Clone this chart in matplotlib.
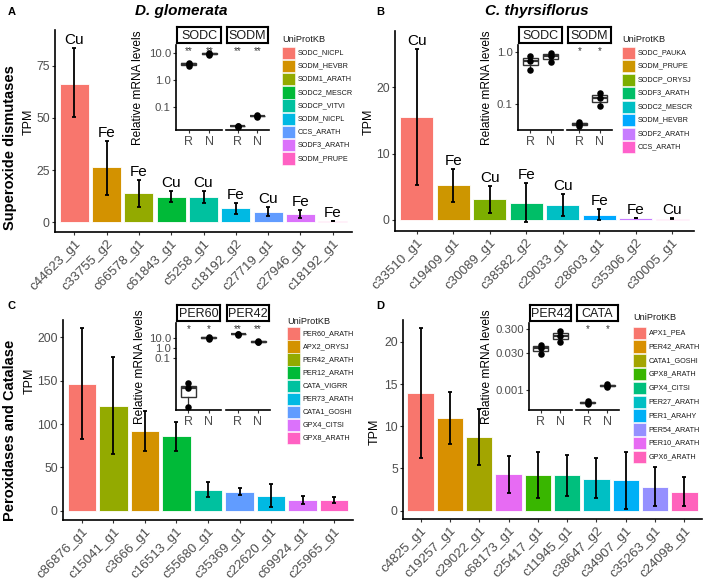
import matplotlib
matplotlib.use('Agg')
import matplotlib.pyplot as plt
import numpy as np
from matplotlib import cbook
from matplotlib.patches import Rectangle

plt.rcParams['font.family'] = ['Liberation Sans', 'DejaVu Sans']

# ---------------- data ----------------
# Panel A (D. glomerata, superoxide dismutases)
a_genes = ['c44623_g1', 'c33755_g2', 'c66578_g1', 'c61843_g1', 'c5258_g1',
           'c18192_g2', 'c27719_g1', 'c27946_g1', 'c18192_g1']
a_tpm = [66.5, 26.4, 13.9, 12.0, 12.0, 6.5, 5.0, 4.0, 0.5]
a_lo = [50.5, 13.0, 7.0, 9.5, 9.0, 4.0, 3.0, 2.0, 0.3]
a_hi = [83.5, 39.0, 20.0, 14.7, 15.0, 9.0, 7.0, 6.0, 0.7]
a_metal = ['Cu', 'Fe', 'Fe', 'Cu', 'Cu', 'Fe', 'Cu', 'Fe', 'Fe']
a_uniprot = ['SODC_NICPL', 'SODM_HEVBR', 'SODM1_ARATH', 'SODC2_MESCR', 'SODCP_VITVI',
             'SODM_NICPL', 'CCS_ARATH', 'SODF3_ARATH', 'SODM_PRUPE']
a_levels = ['SODC_NICPL', 'SODM_HEVBR', 'SODM1_ARATH', 'SODC2_MESCR', 'SODCP_VITVI',
            'SODM_NICPL', 'CCS_ARATH', 'SODF3_ARATH', 'SODM_PRUPE']
a_facets = ['SODC', 'SODM']
a_qpcr = {'SODC': {'R': [3.3, 3.8, 4.2], 'N': [8.5, 9.0, 9.8]},
          'SODM': {'R': [0.019, 0.020, 0.021], 'N': [0.045, 0.048, 0.050]}}
a_sig = {'SODC': ['**', '**'], 'SODM': ['**', '**']}
a_qticks = [10.0, 1.0, 0.1]
a_qticklabels = ['10.0', '1.0', '0.1']

# Panel B (C. thyrsiflorus, superoxide dismutases)
b_genes = ['c33510_g1', 'c19409_g1', 'c30089_g1', 'c38582_g2', 'c29033_g1',
           'c28603_g1', 'c35306_g2', 'c30005_g1']
b_tpm = [15.5, 5.2, 3.1, 2.6, 2.3, 0.8, 0.3, 0.2]
b_lo = [5.2, 2.7, 1.1, -0.3, 0.6, 0.0, 0.25, 0.15]
b_hi = [25.8, 7.7, 5.1, 5.5, 3.9, 1.7, 0.35, 0.25]
b_metal = ['Cu', 'Fe', 'Cu', 'Fe', 'Cu', 'Fe', 'Fe', 'Cu']
b_uniprot = ['SODC_PAUKA', 'SODM_PRUPE', 'SODCP_ORYSJ', 'SODF3_ARATH', 'SODC2_MESCR',
             'SODM_HEVBR', 'SODF2_ARATH', 'CCS_ARATH']
b_levels = ['SODC_PAUKA', 'SODM_PRUPE', 'SODCP_ORYSJ', 'SODF3_ARATH', 'SODC2_MESCR',
            'SODM_HEVBR', 'SODF2_ARATH', 'CCS_ARATH']
b_facets = ['SODC', 'SODM']
b_qpcr = {'SODC': {'R': [0.45, 0.68, 0.85], 'N': [0.65, 0.85, 0.97]},
          'SODM': {'R': [0.037, 0.040, 0.045], 'N': [0.09, 0.13, 0.165]}}
b_sig = {'SODC': ['', ''], 'SODM': ['*', '*']}
b_qticks = [1.0, 0.1]
b_qticklabels = ['1.0', '0.1']

# Panel C (D. glomerata, peroxidases and catalase)
c_genes = ['c86876_g1', 'c15041_g1', 'c3666_g1', 'c16513_g1', 'c55680_g1',
           'c35369_g1', 'c22620_g1', 'c69924_g1', 'c25965_g1']
c_tpm = [146.0, 121.0, 92.0, 86.0, 24.0, 22.0, 17.0, 12.5, 12.5]
c_lo = [83.0, 65.0, 69.0, 69.0, 16.0, 18.0, 4.0, 8.0, 9.0]
c_hi = [211.0, 177.0, 115.0, 102.0, 33.0, 26.0, 31.0, 17.0, 16.0]
c_uniprot = ['PER60_ARATH', 'PER42_ARATH', 'APX2_ORYSJ', 'PER12_ARATH', 'CATA_VIGRR',
             'CATA1_GOSHI', 'PER73_ARATH', 'GPX4_CITSI', 'GPX8_ARATH']
c_levels = ['PER60_ARATH', 'APX2_ORYSJ', 'PER42_ARATH', 'PER12_ARATH', 'CATA_VIGRR',
            'PER73_ARATH', 'CATA1_GOSHI', 'GPX4_CITSI', 'GPX8_ARATH']
c_facets = ['PER60', 'PER42']
c_qpcr = {'PER60': {'R': [1.5e-6, 1.0e-4, 3.2e-4], 'N': [9.0, 12.0, 14.0]},
          'PER42': {'R': [22.0, 27.0, 30.0], 'N': [4.0, 4.6, 5.2]}}
c_sig = {'PER60': ['*', '*'], 'PER42': ['**', '**']}
c_qticks = [10.0, 1.0, 0.1]
c_qticklabels = ['10.0', '1.0', '0.1']

# Panel D (C. thyrsiflorus, peroxidases and catalase)
d_genes = ['c4825_g1', 'c19257_g1', 'c29022_g1', 'c68173_g1', 'c25417_g1',
           'c11945_g1', 'c38647_g2', 'c34907_g1', 'c35263_g1', 'c24098_g1']
d_tpm = [13.9, 11.0, 8.7, 4.3, 4.2, 4.2, 3.8, 3.6, 2.8, 2.2]
d_lo = [6.3, 7.9, 5.4, 2.1, 1.5, 1.7, 1.5, 0.2, 0.5, 0.5]
d_hi = [21.6, 14.1, 12.0, 6.5, 6.9, 6.6, 6.2, 7.0, 5.2, 4.0]
d_uniprot = ['APX1_PEA', 'PER42_ARATH', 'CATA1_GOSHI', 'PER10_ARATH', 'GPX8_ARATH',
             'GPX4_CITSI', 'PER27_ARATH', 'PER1_ARAHY', 'PER54_ARATH', 'GPX6_ARATH']
d_levels = ['APX1_PEA', 'PER42_ARATH', 'CATA1_GOSHI', 'GPX8_ARATH', 'GPX4_CITSI',
            'PER27_ARATH', 'PER1_ARAHY', 'PER54_ARATH', 'PER10_ARATH', 'GPX6_ARATH']
d_facets = ['PER42', 'CATA']
d_qpcr = {'PER42': {'R': [0.028, 0.052, 0.065], 'N': [0.09, 0.16, 0.24]},
          'CATA': {'R': [2.8e-4, 3.1e-4, 3.5e-4], 'N': [1.3e-3, 1.5e-3, 1.7e-3]}}
d_sig = {'PER42': ['', ''], 'CATA': ['*', '*']}
d_qticks = [0.3, 0.03, 0.001]
d_qticklabels = ['0.300', '0.030', '0.001']

conditions = ['R', 'N']

# ggplot default hue palettes
pal = {8: ['#F8766D', '#CD9600', '#7CAE00', '#00BE67', '#00BFC4', '#00A9FF', '#C77CFF', '#FF61CC'],
       9: ['#F8766D', '#D39200', '#93AA00', '#00BA38', '#00C19F', '#00B9E3', '#619CFF', '#DB72FB', '#FF61C3'],
       10: ['#F8766D', '#D89000', '#A3A500', '#39B600', '#00BF7D', '#00BFC4', '#00B0F6', '#9590FF', '#E76BF3', '#FF62BC']}

# ---------------- layout helpers ----------------
W, H = 708, 583
fig = plt.figure(figsize=(7.08, 5.83), dpi=100)


def ax_px(l, t, r, b, **kw):
    return fig.add_axes([l / W, 1 - b / H, (r - l) / W, (b - t) / H], **kw)


TICK_GREY = '#4D4D4D'


def main_panel(rect, genes, tpm, lo, hi, uniprot, levels, ylim, yticks, metal=None):
    ax = ax_px(*rect)
    colors = pal[len(levels)]
    cmap = {lv: colors[i] for i, lv in enumerate(levels)}
    x = np.arange(1, len(genes) + 1)
    ax.bar(x, tpm, width=0.9, color=[cmap[u] for u in uniprot], edgecolor='white', linewidth=0.6, zorder=2)
    tpm_a = np.array(tpm)
    err = np.vstack([tpm_a - np.array(lo), np.array(hi) - tpm_a])
    ax.errorbar(x, tpm_a, yerr=err, fmt='none', ecolor='black', elinewidth=1.3, capsize=1.6, capthick=1.3, zorder=3)
    if metal is not None:
        for xi, h, m in zip(x, hi, metal):
            ax.text(xi, h + 0.005 * (ylim[1] - ylim[0]), m, ha='center', va='bottom', fontsize=11, color='black', zorder=4)
    ax.set_xlim(0.4, len(genes) + 0.6)
    ax.set_ylim(*ylim)
    ax.set_yticks(yticks)
    ax.set_xticks(x)
    ax.set_xticklabels(genes, rotation=45, ha='right', rotation_mode='anchor', fontsize=9.6, color=TICK_GREY)
    ax.tick_params(axis='y', labelsize=8.8, labelcolor=TICK_GREY, length=2.5, width=0.8, color='#333333', pad=1.2)
    ax.tick_params(axis='x', length=2.5, width=0.8, color='#333333', pad=1.5)
    for s in ['top', 'right']:
        ax.spines[s].set_visible(False)
    for s in ['left', 'bottom']:
        ax.spines[s].set_linewidth(1.2)
    ax.patch.set_alpha(0)
    return ax


def log_bxp(ax, groups):
    stats = cbook.boxplot_stats([np.log10(g) for g in groups], whis=1.5)
    for s in stats:
        for k in ('med', 'q1', 'q3', 'whislo', 'whishi', 'mean', 'cilo', 'cihi'):
            s[k] = 10 ** s[k]
        s['fliers'] = 10 ** np.asarray(s['fliers'])
    ax.bxp(stats, positions=[1, 2], widths=0.75, showfliers=False, patch_artist=True,
           boxprops=dict(facecolor='white', edgecolor='#333333', linewidth=1.0),
           medianprops=dict(color='#333333', linewidth=1.6),
           whiskerprops=dict(color='#333333', linewidth=0.9),
           capprops=dict(linewidth=0))


def inset(facet_rects, strip_top, facets, qpcr, sig, ylim, qticks, qticklabels):
    for j, (fname, rect) in enumerate(zip(facets, facet_rects)):
        ax = ax_px(*rect)
        groups = [qpcr[fname][c] for c in conditions]
        ax.set_yscale('log')
        log_bxp(ax, groups)
        for i, g in enumerate(groups):
            ax.scatter(np.full(len(g), i + 1), g, s=22, color='black', zorder=5, linewidths=0)
        for i, st in enumerate(sig[fname]):
            if st:
                ax.text(i + 1, 0.93, st, transform=ax.get_xaxis_transform(), ha='center', va='center',
                        fontsize=7, color='#333333')
        ax.set_xlim(0.4, 2.6)
        ax.set_ylim(*ylim)
        ax.set_xticks([1, 2])
        ax.set_xticklabels(conditions, fontsize=9, color=TICK_GREY)
        ax.minorticks_off()
        ax.set_yticks(qticks)
        ax.tick_params(axis='x', length=2.5, width=0.8, color='#333333', pad=1.5)
        ax.tick_params(axis='y', length=2.5, width=0.8, color='#333333', labelsize=8.2, labelcolor=TICK_GREY, pad=1.2)
        ax.spines['top'].set_visible(False)
        ax.spines['right'].set_visible(False)
        ax.spines['bottom'].set_linewidth(1.2)
        if j == 0:
            ax.set_yticklabels(qticklabels)
            ax.spines['left'].set_linewidth(1.2)
        else:
            ax.set_yticklabels([])
            ax.tick_params(axis='y', length=0)
            ax.spines['left'].set_visible(False)
        ax.patch.set_alpha(0)
        # strip
        l, t, r, b = rect
        sax = ax_px(l + 1, strip_top, r - 1, t - 2)
        sax.set_xticks([]); sax.set_yticks([])
        for s in sax.spines.values():
            s.set_linewidth(1.5)
            s.set_color('black')
        sax.text(0.5, 0.45, fname, ha='center', va='center', fontsize=9, color='#1A1A1A', transform=sax.transAxes)


# ---------------- main panels ----------------
axA = main_panel((55, 30, 352, 232), a_genes, a_tpm, a_lo, a_hi, a_uniprot, a_levels,
                 (-4.8, 92.3), [0, 25, 50, 75], a_metal)
axB = main_panel((395, 31, 694, 231), b_genes, b_tpm, b_lo, b_hi, b_uniprot, b_levels,
                 (-1.67, 28.5), [0, 10, 20], b_metal)
axC = main_panel((63, 320, 353, 520), c_genes, c_tpm, c_lo, c_hi, c_uniprot, c_levels,
                 (-10.7, 220), [0, 50, 100, 150, 200])
axD = main_panel((403, 320, 702, 519), d_genes, d_tpm, d_lo, d_hi, d_uniprot, d_levels,
                 (-0.99, 22.6), [0, 5, 10, 15, 20])

# ---------------- insets ----------------
inset([(176, 45, 222, 130), (226, 45, 269, 130)], 27, a_facets, a_qpcr, a_sig,
      (0.0145, 19), a_qticks, a_qticklabels)
inset([(518, 45, 563, 130), (567, 45, 612, 130)], 27, b_facets, b_qpcr, b_sig,
      (0.031, 1.38), b_qticks, b_qticklabels)
inset([(176, 323, 221, 410), (226, 323, 270, 410)], 305, c_facets, c_qpcr, c_sig,
      (10 ** -6.17, 10 ** 2.53), c_qticks, c_qticklabels)
inset([(529, 323, 572, 410), (576, 323, 619, 410)], 305, d_facets, d_qpcr, d_sig,
      (10 ** -3.81, 10 ** -0.29), d_qticks, d_qticklabels)

# ---------------- overlay: labels, legends ----------------
ov = fig.add_axes([0, 0, 1, 1], zorder=20)
ov.set_xlim(0, W); ov.set_ylim(H, 0); ov.axis('off'); ov.patch.set_alpha(0)

# panel letters
for (x, y, s) in [(8, 12, 'A'), (376, 12, 'B'), (8, 306, 'C'), (376, 306, 'D')]:
    ov.text(x, y, s, fontsize=8, fontweight='bold', ha='left', va='center')
# titles
ov.text(181, 11, 'D. glomerata', fontsize=11, fontweight='bold', fontstyle='italic', ha='center', va='center')
ov.text(537, 11, 'C. thyrsiflorus', fontsize=11, fontweight='bold', fontstyle='italic', ha='center', va='center')
# row labels
ov.text(10, 148, 'Superoxide dismutases', fontsize=10.5, fontweight='bold', rotation=90, ha='center', va='center')
ov.text(10, 430, 'Peroxidases and Catalase', fontsize=10.5, fontweight='bold', rotation=90, ha='center', va='center')
# TPM labels
for (x, y) in [(29, 122), (369, 122), (30, 381), (375, 432)]:
    ov.text(x, y, 'TPM', fontsize=9, rotation=90, ha='center', va='center')
# relative mRNA labels
for (x, y) in [(138, 88), (487, 88), (140, 367), (487, 367)]:
    ov.text(x, y, 'Relative mRNA levels', fontsize=8.6, rotation=90, ha='center', va='center')


# legends
def legend(x, y_title, y_first, step, levels):
    colors = pal[len(levels)]
    ov.text(x, y_title, 'UniProtKB', fontsize=6.6, ha='left', va='center', color='#1A1A1A')
    for i, (lv, c) in enumerate(zip(levels, colors)):
        yc = y_first + i * step
        ov.add_patch(Rectangle((x, yc - 6.2), 12.6, 12.4, facecolor=c, edgecolor='white', linewidth=0.4))
        ov.text(x + 15.5, yc, lv, fontsize=5.2, ha='left', va='center', color='#1A1A1A')


legend(282, 40, 52.7, 13.2, a_levels)
legend(622, 40, 52.7, 13.5, b_levels)
legend(287, 321.7, 333.3, 13.1, c_levels)
legend(633, 317.3, 332.7, 13.8, d_levels)

fig.savefig('out.png', dpi=100)
